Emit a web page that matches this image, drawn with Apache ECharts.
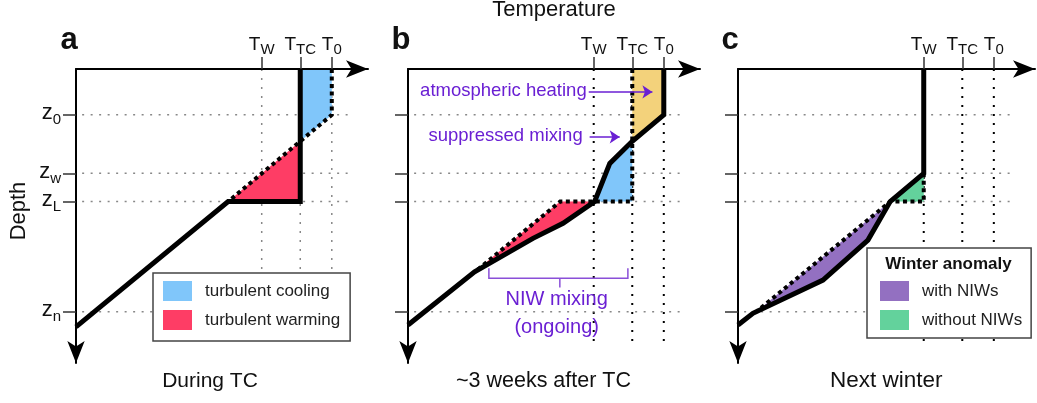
<!DOCTYPE html>
<html>
<head>
<meta charset="utf-8">
<script src="https://cdn.jsdelivr.net/npm/echarts@6/dist/echarts.min.js"></script>
<style>
  html, body { margin: 0; padding: 0; background: #fff; }
  #chart { width: 1037px; height: 403px; }
</style>
</head>
<body>
<div id="chart"></div>
<script>
// axis units: temperature 0-100 to the right, depth 0-100 downward
const tTicks = [63.6, 76.8, 87.6];        // T_W, T_TC, T_0
const tSubs = ["W", "TC", "0"];
const zTicks = [15.6, 35.5, 45.1, 82.6];  // z_0, z_w, z_L, z_n
const zSubs = ["0", "w", "L", "n"];

// a: during TC
const profileA = [[76.8, 0], [76.8, 45.1], [52.1, 45.1], [0, 87.7]];
const initialA = [[87.6, 0], [87.6, 15.6], [52.1, 45.1]];
const coolingA = [[76.8, 0], [87.6, 0], [87.6, 15.6], [76.8, 24.6]];
const warmingA = [[76.8, 24.6], [52.1, 45.1], [76.8, 45.1]];

// b: ~3 weeks after TC
const profileB = [[87.6, 0], [87.6, 15.6], [76.8, 24.6], [69.1, 32.1], [63.9, 45.1],
  [53.1, 52.5], [42.8, 57.6], [22.8, 69.0], [0, 87.1]];
const tcProfileB = [[76.8, 0], [76.8, 45.1], [52.1, 45.1], [22.8, 69.1]];
const heatingB = [[76.8, 0], [87.6, 0], [87.6, 15.6], [76.8, 24.6]];
const coolingB = [[76.8, 24.6], [69.1, 32.1], [63.9, 45.1], [76.8, 45.1]];
const warmingB = [[52.1, 45.1], [63.9, 45.1], [53.1, 52.5], [42.8, 57.6], [22.8, 69.0]];
const niwBracket = [[27.7, 67.8], [27.7, 71.2], [75.3, 71.2], [75.3, 67.8]];
const niwBracketTick = [[52, 71.2], [52, 74.3]];
const heatArrow = [[61.9, 7.8], [83.7, 7.8]];
const mixArrow = [[62.2, 23.1], [72.5, 23.1]];

// c: next winter
const profileC = [[63.6, 0], [63.6, 35.5], [52.1, 45.1], [44.5, 58.2], [29.1, 71.8], [5.1, 83.1], [0, 87.1]];
const noNiwC = [[63.6, 35.5], [63.6, 45.1], [52.1, 45.1], [6.5, 82.4]];
const withNiwC = [[52.1, 45.1], [44.5, 58.2], [29.1, 71.8], [6.5, 82.4]];
const withoutNiwC = [[63.6, 35.5], [63.6, 45.1], [52.1, 45.1]];

const gridDepthEnd = 93.2;
const hGridFrom = 2.1, hGridTo = 94;

const FONT = "'Liberation Sans', Arial, sans-serif";
const PURPLE = "#6a1fd3";
const colors = {
  cooling: "#80c6fa",
  warming: "#fe3d65",
  heating: "#f3d27b",
  withNiw: "#9370c1",
  withoutNiw: "#63d29c"
};

const chart = echarts.init(document.getElementById("chart"));

const grids = [
  { left: 76, top: 69, width: 292, height: 294 },
  { left: 408, top: 69, width: 292, height: 294 },
  { left: 738, top: 69, width: 297, height: 294 }
];
const xMax = [100, 100, 101.7];
const vGridColor = ["#888", "#000", "#000"];

function findIdx(arr, v) {
  return arr.findIndex((a) => Math.abs(a - v) < 0.01);
}

function arrowLine(symbols) {
  return {
    show: true,
    onZero: false,
    symbol: symbols,
    symbolSize: [13, 22],
    symbolOffset: [0, 0],
    lineStyle: { color: "#000", width: 2 }
  };
}

const xAxes = grids.map((g, i) => ({
  gridIndex: i,
  type: "value",
  position: "top",
  min: 0,
  max: xMax[i],
  z: 5,
  axisLine: arrowLine(["none", "arrow"]),
  axisTick: { show: true, inside: false, length: 12, customValues: tTicks, lineStyle: { color: "#333", width: 1.5 } },
  axisLabel: {
    show: true,
    customValues: tTicks,
    margin: 12,
    formatter: (v) => "{m|T}{s|" + tSubs[findIdx(tTicks, v)] + "}",
    rich: {
      m: { fontSize: 19, fontFamily: FONT, color: "#111", verticalAlign: "bottom", padding: [0, 0, 3, 0] },
      s: { fontSize: 15, fontFamily: FONT, color: "#111", verticalAlign: "bottom" }
    }
  },
  splitLine: { show: false }
}));

const yAxes = grids.map((g, i) => ({
  gridIndex: i,
  type: "value",
  position: "left",
  inverse: true,
  min: 0,
  max: 100,
  z: 5,
  axisLine: arrowLine(["arrow", "none"]),
  axisTick: { show: true, inside: false, length: 13, customValues: zTicks, lineStyle: { color: "#333", width: 1.5 } },
  axisLabel: {
    show: i === 0,
    customValues: zTicks,
    margin: 15,
    formatter: (v) => "{m|z}{s|" + zSubs[findIdx(zTicks, v)] + "}",
    rich: {
      m: { fontSize: 22, fontFamily: FONT, color: "#111", verticalAlign: "bottom", padding: [0, 0, 3, 0] },
      s: { fontSize: 15, fontFamily: FONT, color: "#111", verticalAlign: "bottom" }
    }
  },
  splitLine: { show: false }
}));

function lineSeries(g, data, style, z) {
  return {
    type: "line", xAxisIndex: g, yAxisIndex: g, data: data,
    symbol: "none", showSymbol: false, silent: true, clip: false, z: z,
    lineStyle: Object.assign({ cap: "butt", join: "miter" }, style)
  };
}

function fillSeries(g, name, pts, color) {
  return {
    type: "custom", name: name, xAxisIndex: g, yAxisIndex: g, data: pts,
    z: 2, silent: true, clip: false, itemStyle: { color: color },
    renderItem: function (params, api) {
      if (params.dataIndex !== 0) return null;
      return { type: "polygon", shape: { points: pts.map((p) => api.coord(p)) }, style: { fill: color } };
    }
  };
}

const solid = { color: "#000", width: 5 };
const dotted = { color: "#000", width: 4, type: [4, 3.5] };

const series = [];
// dotted reference grid
grids.forEach((g, i) => {
  tTicks.forEach((t) => {
    series.push(lineSeries(i, [[t, 0], [t, gridDepthEnd]], { color: vGridColor[i], width: i === 0 ? 1.5 : 2, type: [2, 7] }, 1));
  });
  zTicks.forEach((z) => {
    series.push(lineSeries(i, [[hGridFrom, z], [hGridTo, z]], { color: "#888", width: 1.5, type: [2, 6.5] }, 1));
  });
});

// fills
series.push(fillSeries(0, "turbulent cooling", coolingA, colors.cooling));
series.push(fillSeries(0, "turbulent warming", warmingA, colors.warming));
series.push(fillSeries(1, "atmospheric heating", heatingB, colors.heating));
series.push(fillSeries(1, "turbulent cooling", coolingB, colors.cooling));
series.push(fillSeries(1, "turbulent warming", warmingB, colors.warming));
series.push(fillSeries(2, "with NIWs", withNiwC, colors.withNiw));
series.push(fillSeries(2, "without NIWs", withoutNiwC, colors.withoutNiw));

// profiles
series.push(lineSeries(0, initialA, dotted, 3));
series.push(lineSeries(0, profileA, solid, 4));
series.push(lineSeries(1, tcProfileB, dotted, 3));
series.push(lineSeries(1, profileB, solid, 4));
series.push(lineSeries(2, noNiwC, dotted, 3));
series.push(lineSeries(2, profileC, solid, 4));

// NIW bracket and annotation arrows in b
const bracket = lineSeries(1, niwBracket, { color: "#8a4fd8", width: 1.5 }, 6);
bracket.markLine = {
  silent: true,
  animation: false,
  symbol: ["none", "arrow"],
  symbolSize: 10,
  label: { show: false },
  lineStyle: { color: PURPLE, width: 1.5, type: "solid" },
  data: [
    [{ coord: heatArrow[0] }, { coord: heatArrow[1] }],
    [{ coord: mixArrow[0] }, { coord: mixArrow[1] }]
  ]
};
series.push(bracket);
series.push(lineSeries(1, niwBracketTick, { color: "#8a4fd8", width: 1.5 }, 6));

function txt(x, y, text, size, opts) {
  return {
    type: "text", x: x, y: y, z: 100,
    rotation: (opts && opts.rotation) || 0,
    style: {
      text: text, fontSize: size, fontFamily: FONT,
      fontWeight: (opts && opts.bold) ? "bold" : "normal",
      fill: (opts && opts.color) || "#111",
      align: (opts && opts.align) || "center",
      verticalAlign: "middle"
    }
  };
}

const graphics = [
  txt(554, 9.5, "Temperature", 22),
  txt(18.5, 211, "Depth", 22, { rotation: Math.PI / 2 }),
  txt(69, 40, "a", 31, { bold: true }),
  txt(401, 40, "b", 31, { bold: true }),
  txt(730, 40, "c", 31, { bold: true }),
  txt(210, 381, "During TC", 21),
  txt(543.5, 381, "~3 weeks after TC", 21.5),
  txt(886.3, 381, "Next winter", 22.5),
  txt(586.7, 90.5, "atmospheric heating", 18.5, { align: "right", color: PURPLE }),
  txt(582.7, 135.5, "suppressed mixing", 18.5, { align: "right", color: PURPLE }),
  txt(556.7, 299, "NIW mixing", 20, { color: PURPLE }),
  txt(556.7, 327.5, "(ongoing)", 20, { color: PURPLE }),
  txt(948.5, 264, "Winter anomaly", 17, { bold: true })
];

const legendBase = {
  orient: "vertical",
  icon: "rect",
  itemWidth: 29,
  itemHeight: 20,
  itemGap: 9,
  borderColor: "#444",
  borderWidth: 1.5,
  borderRadius: 0,
  backgroundColor: "#fff",
  selectedMode: false,
  z: 10,
  textStyle: { fontSize: 17, color: "#222", fontFamily: FONT, padding: [0, 0, 0, 8] }
};

chart.setOption({
  animation: false,
  grid: grids,
  xAxis: xAxes,
  yAxis: yAxes,
  legend: [
    Object.assign({}, legendBase, {
      left: 153, top: 273, padding: [8, 10, 11, 10],
      data: ["turbulent cooling", "turbulent warming"]
    }),
    Object.assign({}, legendBase, {
      left: 867, top: 248, padding: [33, 9, 8, 13],
      data: ["with NIWs", "without NIWs"]
    })
  ],
  graphic: graphics,
  series: series
});
</script>
</body>
</html>
